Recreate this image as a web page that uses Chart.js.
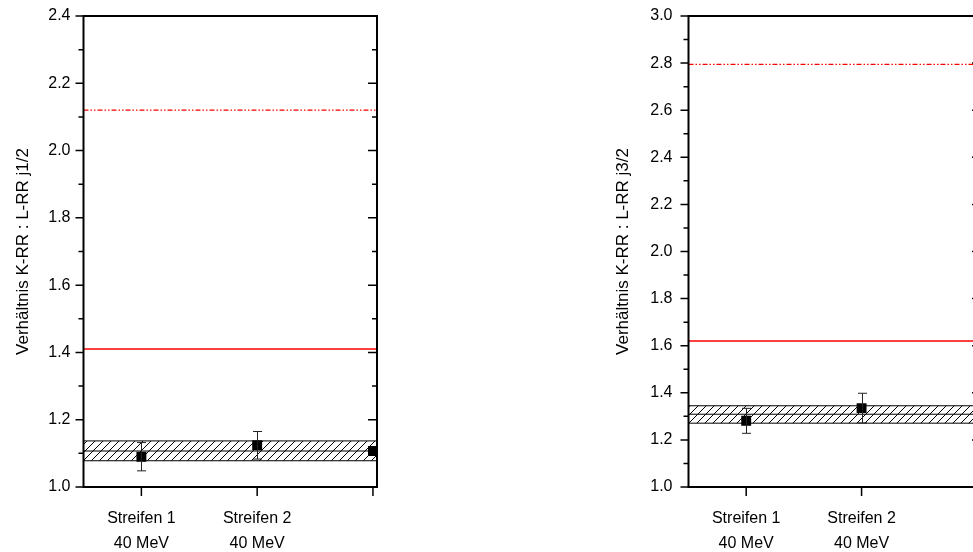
<!DOCTYPE html>
<html>
<head>
<meta charset="utf-8">
<script src="https://cdn.jsdelivr.net/npm/chart.js@4.4.1/dist/chart.umd.min.js"></script>
<style>
  html, body { margin: 0; padding: 0; background: #fff; overflow: hidden; }
  body { width: 973px; height: 552px; position: relative; }
  canvas { position: absolute; top: 0; }
  #left { left: 0; }
  #right { left: 600px; }
</style>
</head>
<body>
<canvas id="left" width="400" height="552"></canvas>
<canvas id="right" width="400" height="552"></canvas>
<script>
// x positions 1, 2, 3 = Streifen 1, Streifen 2, third slot
const xLabels = [['Streifen 1', '40 MeV'], ['Streifen 2', '40 MeV'], ''];
const xPos = [1, 2, 3];

// left panel: K-RR : L-RR j1/2
const j12Values = [1.09, 1.124, 1.107];
const j12Errors = [0.042, 0.041, 0];
const j12Band = [1.078, 1.107, 1.137];   // low, mean, high
const j12Solid = 1.41;
const j12DashDot = 2.12;
const j12Range = [1.0, 2.4];

// right panel: K-RR : L-RR j3/2
const j32Values = [1.281, 1.335];
const j32Errors = [0.053, 0.063];
const j32Band = [1.271, 1.309, 1.345];
const j32Solid = 1.62;
const j32DashDot = 2.795;
const j32Range = [1.0, 3.0];

const xMin = 0.5, xMax = 3.035;

Chart.defaults.font.family = "'Liberation Sans', Arial, sans-serif";
Chart.defaults.color = '#000';

// diagonal hatch for the band
function hatch() {
  const c = document.createElement('canvas');
  c.width = 8; c.height = 8;
  const g = c.getContext('2d');
  g.strokeStyle = '#000';
  g.lineWidth = 1;
  g.beginPath();
  g.moveTo(0, 8); g.lineTo(8, 0);
  g.moveTo(-2, 2); g.lineTo(2, -2);
  g.moveTo(6, 10); g.lineTo(10, 6);
  g.stroke();
  return g.createPattern(c, 'repeat');
}

// frame, ticks and error bars
const frame = {
  id: 'frame',
  afterDatasetsDraw(chart, args, o) {
    const ctx = chart.ctx, a = chart.chartArea;
    const x = chart.scales.x, y = chart.scales.y;
    ctx.save();

    // error bars
    ctx.strokeStyle = '#222';
    ctx.lineWidth = 1;
    o.values.forEach((v, i) => {
      const e = o.errors[i];
      if (!e) return;
      const px = Math.round(x.getPixelForValue(xPos[i])) + 0.5;
      const top = y.getPixelForValue(v + e), bot = y.getPixelForValue(v - e);
      ctx.beginPath();
      ctx.moveTo(px, top); ctx.lineTo(px, bot);
      ctx.moveTo(px - 4.5, top); ctx.lineTo(px + 4.5, top);
      ctx.moveTo(px - 4.5, bot); ctx.lineTo(px + 4.5, bot);
      ctx.stroke();
    });

    // ticks
    ctx.strokeStyle = '#000';
    ctx.lineWidth = 1.5;
    const majors = y.ticks.map(t => t.value);
    const minors = [];
    for (let i = 0; i < majors.length - 1; i++) minors.push((majors[i] + majors[i + 1]) / 2);
    ctx.beginPath();
    majors.forEach(v => {
      const py = y.getPixelForValue(v);
      ctx.moveTo(a.left - 8, py); ctx.lineTo(a.left, py);
      ctx.moveTo(a.right - 9, py); ctx.lineTo(a.right, py);
    });
    minors.forEach(v => {
      const py = y.getPixelForValue(v);
      ctx.moveTo(a.left - 5, py); ctx.lineTo(a.left, py);
      ctx.moveTo(a.right - 5, py); ctx.lineTo(a.right, py);
    });
    xPos.forEach(v => {
      const px = x.getPixelForValue(v);
      ctx.moveTo(px, a.bottom); ctx.lineTo(px, a.bottom + 9);
    });
    ctx.stroke();

    ctx.lineWidth = 2;
    ctx.strokeRect(a.left, a.top, a.right - a.left, a.bottom - a.top);
    ctx.restore();
  }
};

function hline(v, color, dash, order, width) {
  return {
    type: 'line',
    data: [{ x: xMin, y: v }, { x: xMax, y: v }],
    borderColor: color,
    borderWidth: width || 1,
    borderDash: dash || [],
    pointRadius: 0,
    fill: false,
    order: order
  };
}

function makeChart(id, cfg) {
  const pts = cfg.values.map((v, i) => ({ x: xPos[i], y: v }));
  const bandTop = hline(cfg.band[2], '#000', null, 5);
  bandTop.fill = { value: cfg.band[0] };
  bandTop.backgroundColor = hatch();
  return new Chart(document.getElementById(id), {
    type: 'scatter',
    data: {
      datasets: [
        {
          data: pts,
          pointStyle: 'rect',
          pointRadius: 7,
          pointHoverRadius: 7,
          backgroundColor: '#000',
          borderColor: '#000',
          borderWidth: 0,
          order: 0
        },
        hline(cfg.solid, '#ff0000', null, 2, 1.5),
        hline(cfg.dashDot, '#ff0000', [5, 2, 1.5, 2, 1.5, 2], 2, 1.3),
        hline(cfg.band[1], '#000', null, 3),
        hline(cfg.band[0], '#000', null, 4),
        bandTop
      ]
    },
    options: {
      responsive: false,
      animation: false,
      events: [],
      layout: { padding: { top: 16, right: cfg.padRight, bottom: 0, left: 0 } },
      plugins: {
        legend: { display: false },
        tooltip: { enabled: false },
        frame: { values: cfg.values, errors: cfg.errors }
      },
      scales: {
        x: {
          type: 'linear',
          min: xMin,
          max: xMax,
          grid: { display: false, drawTicks: false },
          border: { display: false },
          afterBuildTicks: s => { s.ticks = xPos.map(v => ({ value: v })); },
          afterFit: s => { s.height = 65; s.paddingLeft = 0; s.paddingRight = 0; },
          ticks: {
            padding: 19,
            maxRotation: 0,
            font: { size: 16, lineHeight: '25px' },
            callback: (v) => xLabels[xPos.indexOf(v)] || ''
          }
        },
        y: {
          min: cfg.range[0],
          max: cfg.range[1],
          grid: { display: false, drawTicks: false },
          border: { display: false },
          afterFit: s => { s.width = cfg.axisLeft; s.paddingTop = 0; s.paddingBottom = 0; },
          ticks: {
            stepSize: 0.2,
            padding: cfg.labelPad,
            font: { size: 16 },
            callback: v => v.toFixed(1)
          },
          title: {
            display: true,
            text: cfg.title,
            font: { size: 17 },
            padding: { top: 13, bottom: 0 }
          }
        }
      }
    },
    plugins: [frame]
  });
}

makeChart('left', {
  values: j12Values, errors: j12Errors, band: j12Band,
  solid: j12Solid, dashDot: j12DashDot, range: j12Range,
  title: 'Verhältnis K-RR : L-RR j1/2',
  axisLeft: 83.5, padRight: 23, labelPad: 13
});

makeChart('right', {
  values: j32Values, errors: j32Errors, band: j32Band,
  solid: j32Solid, dashDot: j32DashDot, range: j32Range,
  title: 'Verhältnis K-RR : L-RR j3/2',
  axisLeft: 88.5, padRight: 19, labelPad: 16
});
</script>
</body>
</html>
